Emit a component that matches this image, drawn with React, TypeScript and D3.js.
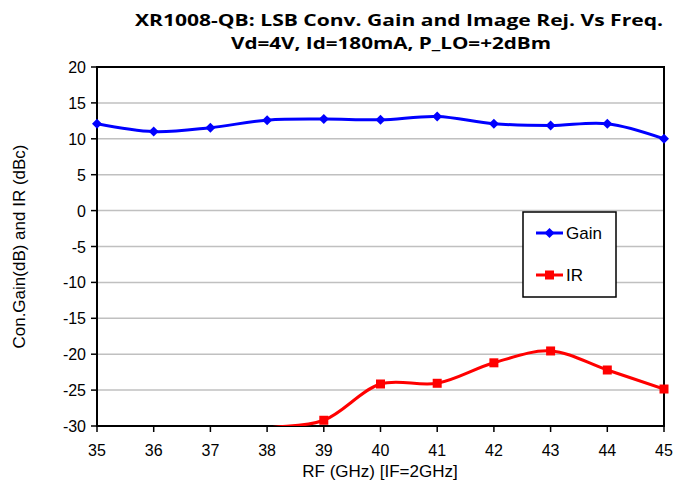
import React from "react";
import * as d3 from "d3";

const freqs = [35, 36, 37, 38, 39, 40, 41, 42, 43, 44, 45];
const gain = [12.1, 11.0, 11.55, 12.6, 12.75, 12.65, 13.1, 12.1, 11.85, 12.1, 10.0];
const ir = [-34, -33, -31.5, -30.3, -29.2, -24.15, -24.05, -21.2, -19.55, -22.2, -24.85];
const yTicks = [20, 15, 10, 5, 0, -5, -10, -15, -20, -25, -30];
const xTicks = [35, 36, 37, 38, 39, 40, 41, 42, 43, 44, 45];
const titleLines = [
  "XR1008-QB: LSB Conv. Gain and Image Rej. Vs Freq.",
  "Vd=4V, Id=180mA, P_LO=+2dBm",
];

export default function App() {
  const W = 675, H = 482;
  const L = 97, R = 664, T = 67, B = 426;
  const x = d3.scaleLinear().domain([35, 45]).range([L, R]);
  const y = d3.scaleLinear().domain([-30, 20]).range([B, T]);
  const line = d3
    .line<[number, number]>()
    .x((d) => x(d[0]))
    .y((d) => y(d[1]))
    .curve(d3.curveCatmullRom.alpha(0.5));
  const gPts: [number, number][] = freqs.map((f, i) => [f, gain[i]]);
  const iPts: [number, number][] = freqs.map((f, i) => [f, ir[i]]);
  const font = "Arial, 'Liberation Sans', sans-serif";
  const diamond = (cx: number, cy: number, s = 5) =>
    `M${cx},${cy - s}L${cx + s},${cy}L${cx},${cy + s}L${cx - s},${cy}Z`;
  const titlePos = [
    { cx: 399, y: 26, len: 528 },
    { cx: 391, y: 49, len: 320 },
  ];
  return (
    <svg width={W} height={H} style={{ position: "absolute", left: 0, top: 0 }}>
      <rect width={W} height={H} fill="white" />
      <defs>
        <clipPath id="plotclip">
          <rect x={L} y={T} width={R - L} height={B - T} />
        </clipPath>
      </defs>
      {titleLines.map((t, i) => (
        <text
          key={i}
          x={titlePos[i].cx - titlePos[i].len / 2}
          y={titlePos[i].y}
          textLength={titlePos[i].len}
          lengthAdjust="spacingAndGlyphs"
          fontFamily="'Open Sans', 'DejaVu Sans', sans-serif"
          fontWeight="bold"
          fontSize={16.5}
          fill="#000"
        >
          {t}
        </text>
      ))}
      {yTicks.slice(1, -1).map((v) => (
        <line key={v} x1={L} x2={R} y1={y(v)} y2={y(v)} stroke="#c0c0c0" strokeWidth={1.5} />
      ))}
      <rect x={L} y={T} width={R - L} height={B - T} fill="none" stroke="#000" strokeWidth={2} />
      {yTicks.map((v) => (
        <g key={v}>
          <line x1={L - 6} x2={L} y1={y(v)} y2={y(v)} stroke="#000" strokeWidth={1.5} />
          <text x={L - 11} y={y(v) + 6} textAnchor="end" fontFamily={font} fontSize={16}>
            {v}
          </text>
        </g>
      ))}
      {xTicks.map((v) => (
        <g key={v}>
          <line x1={x(v)} x2={x(v)} y1={B} y2={B + 6} stroke="#000" strokeWidth={1.5} />
          <text x={x(v)} y={B + 30} textAnchor="middle" fontFamily={font} fontSize={16}>
            {v}
          </text>
        </g>
      ))}
      <text x={380} y={477} textAnchor="middle" fontFamily={font} fontSize={17}>
        RF (GHz) [IF=2GHz]
      </text>
      <text
        transform={`translate(25,${(T + B) / 2}) rotate(-90)`}
        textAnchor="middle"
        fontFamily={font}
        fontSize={17}
      >
        Con.Gain(dB) and IR (dBc)
      </text>
      <g clipPath="url(#plotclip)">
        <path d={line(gPts) || ""} fill="none" stroke="#0000ff" strokeWidth={3} />
        <path d={line(iPts) || ""} fill="none" stroke="#ff0000" strokeWidth={3} />
      </g>
      {gPts.map(([f, v], i) => (
        <path key={"g" + i} d={diamond(x(f), y(v))} fill="#0000ff" />
      ))}
      {iPts
        .filter(([, v]) => v >= -30)
        .map(([f, v], i) => (
          <rect key={"r" + i} x={x(f) - 4.5} y={y(v) - 4.5} width={9} height={9} fill="#ff0000" />
        ))}
      <rect x={523} y={212} width={93} height={85} fill="white" stroke="#000" strokeWidth={1.5} />
      <line x1={536} x2={563} y1={233} y2={233} stroke="#0000ff" strokeWidth={3} />
      <path d={diamond(549.5, 233)} fill="#0000ff" />
      <text x={566} y={239} fontFamily={font} fontSize={17}>Gain</text>
      <line x1={536} x2={563} y1={275} y2={275} stroke="#ff0000" strokeWidth={3} />
      <rect x={545} y={270.5} width={9} height={9} fill="#ff0000" />
      <text x={566} y={281} fontFamily={font} fontSize={17}>IR</text>
    </svg>
  );
}
